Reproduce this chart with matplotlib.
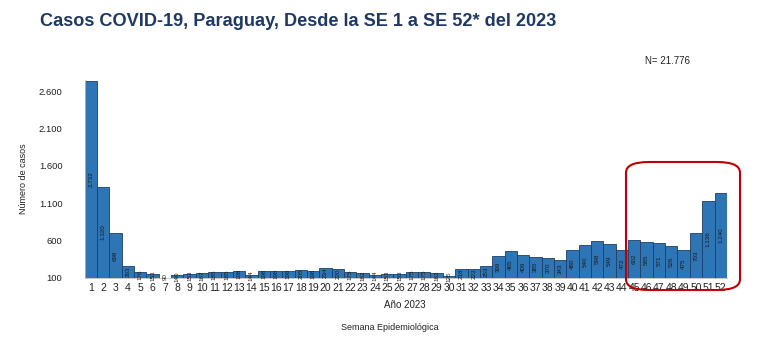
import matplotlib.pyplot as plt
from matplotlib.patches import FancyBboxPatch

plt.rcParams['font.family'] = ['Liberation Sans', 'DejaVu Sans']

semanas = list(range(1, 53))
casos = [2732, 1320, 698, 263, 176, 153, 90, 140, 153, 167,
         185, 185, 198, 144, 198, 198, 198, 205, 198, 234,
         220, 175, 162, 144, 153, 153, 175, 175, 162, 125,
         218, 223, 253, 399, 465, 409, 385, 370, 343, 480,
         540, 598, 549, 472, 602, 585, 571, 526, 475, 703,
         1136, 1240]
yticks = [100, 600, 1100, 1600, 2100, 2600]


def fmt(v):
    return '{:,}'.format(v).replace(',', '.')


fig = plt.figure(figsize=(7.7, 3.54), dpi=100)
ax = fig.add_axes([0.110, 0.215, 0.834, 0.559])

ax.bar(semanas, casos, width=1.0, color='#2E75B6', edgecolor='#1F3F66', linewidth=0.6)
for s, v in zip(semanas, casos):
    y = max((100 + v) / 2, 118)
    ax.text(s, y, fmt(v), rotation=90, ha='center', va='center',
            fontsize=4.5, color='#1a1a1a')

ax.set_xlim(0.5, 52.5)
ax.set_ylim(100, 2750)
ax.set_xticks(semanas)
ax.set_xticklabels([str(s) for s in semanas], fontsize=7.5, color='#222222')
ax.set_yticks(yticks)
ax.set_yticklabels([fmt(t) for t in yticks], fontsize=6.8, color='#222222')
ax.tick_params(axis='both', length=0)
ax.tick_params(axis='y', pad=16)
ax.tick_params(axis='x', pad=4)
for side in ['top', 'right']:
    ax.spines[side].set_visible(False)
ax.spines['left'].set_color('#bfbfbf')
ax.spines['bottom'].set_color('#bfbfbf')
ax.spines['left'].set_linewidth(0.6)
ax.spines['bottom'].set_linewidth(0.6)

ax.set_ylabel('Número de casos', fontsize=6.5, color='#222222', labelpad=8)

fig.text(405 / 770, 1 - 305 / 354, 'Año 2023', ha='center', va='center', fontsize=7, color='#222222')
fig.text(390 / 770, 1 - 327 / 354, 'Semana Epidemiológica', ha='center', va='center', fontsize=6.5, color='#222222')
fig.text(40 / 770, 1 - 22 / 354, 'Casos COVID-19, Paraguay, Desde la SE 1 a SE 52* del 2023',
         ha='left', va='center', fontsize=13.1, fontweight='bold', color='#1F3864')
fig.text(645 / 770, 1 - 61 / 354, 'N= 21.776', ha='left', va='center', fontsize=7, color='#222222')

box = FancyBboxPatch((626 / 770, 1 - 290 / 354), 114 / 770, 128 / 354,
                     boxstyle='round,pad=0,rounding_size=0.03',
                     transform=fig.transFigure, fill=False,
                     edgecolor='#C00000', linewidth=1.5)
fig.patches.append(box)

plt.savefig('out.png', dpi=100)
